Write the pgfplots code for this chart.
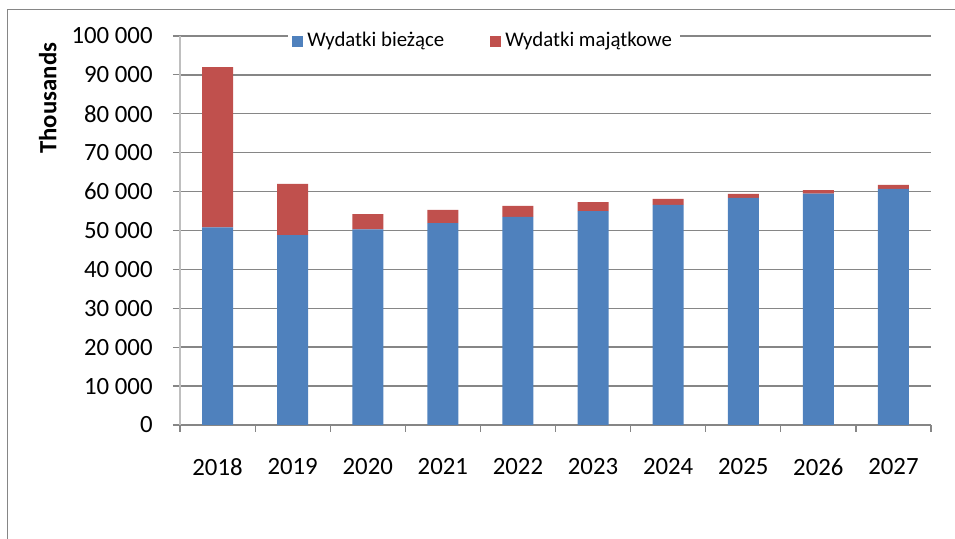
\documentclass[border=0pt]{standalone}
\usepackage{pgfplots}
\pgfplotsset{compat=1.18}
\usepackage{fontspec}
\setmainfont{Carlito}
\definecolor{cblue}{RGB}{79,129,189}
\definecolor{cred}{RGB}{192,80,77}
\definecolor{gridc}{RGB}{134,134,134}
\definecolor{yaxc}{RGB}{191,191,191}
\pgfplotsset{sqlegend/.style={legend image code/.code={\fill[##1] (0pt,-2.75pt) rectangle (5.5pt,2.75pt);}}}
\begin{document}
\begin{tikzpicture}
\useasboundingbox (0,0) rectangle (477.5pt,-269.5pt);
\draw[gridc, line width=0.6pt] (3.65pt,-269.5pt) -- (3.65pt,-4.6pt) -- (477.5pt,-4.6pt);
\begin{axis}[
  at={(90pt,-212.5pt)}, anchor=south west,
  scale only axis, width=375.5pt, height=194.5pt,
  ybar stacked, bar width=15.5pt,
  xmin=-0.5, xmax=9.5, ymin=0, ymax=100000,
  xtick={0,1,2,3,4,5,6,7,8,9},
  xticklabels={2018,2019,2020,2021,2022,2023,2024,2025,2026,2027},
  major x tick style={draw=none},
  minor xtick={-0.5,0.5,1.5,2.5,3.5,4.5,5.5,6.5,7.5,8.5,9.5},
  ytick={0,10000,20000,30000,40000,50000,60000,70000,80000,90000,100000},
  yticklabels={0,10 000,20 000,30 000,40 000,50 000,60 000,70 000,80 000,90 000,100 000},
  scaled y ticks=false,
  tick align=outside, major tick length=3.5pt, minor tick length=3.5pt,
  tick style={gridc, line width=0.6pt},
  axis x line*=bottom, axis y line*=left,
  x axis line style={gridc, line width=0.7pt},
  y axis line style={yaxc, line width=1pt},
  ymajorgrids, major grid style={gridc, line width=0.7pt},
  tick label style={font=\fontsize{12.4}{14}\selectfont},
  yticklabel style={anchor=east, inner sep=0pt, xshift=-10pt},
  xticklabel style={anchor=north, inner sep=0pt, yshift=-13pt},
  ylabel={Thousands},
  ylabel style={at={(axis description cs:-0.1638,0.84)}, anchor=south, inner sep=0pt, font=\bfseries\fontsize{12.4}{14}\selectfont},
  sqlegend,
  legend columns=-1,
  legend style={at={(rel axis cs:0.405,0.987)}, anchor=center, draw=none, fill=white,
    font=\fontsize{10.4}{12}\selectfont, inner sep=2pt,
    /tikz/every even column/.append style={column sep=21pt}},
]
\addplot[fill=cblue, draw=none] table[x=x, y=y] {
x y
0 50800
1 48800
2 50300
3 51900
4 53500
5 55000
6 56600
7 58400
8 59500
9 60700
};
\addlegendentry{Wydatki bieżące}
\addplot[fill=cred, draw=none] table[x=x, y=y] {
x y
0 41200
1 13200
2 3900
3 3400
4 2800
5 2300
6 1500
7 1000
8 900
9 1000
};
\addlegendentry{Wydatki majątkowe}
\end{axis}
\end{tikzpicture}
\end{document}
